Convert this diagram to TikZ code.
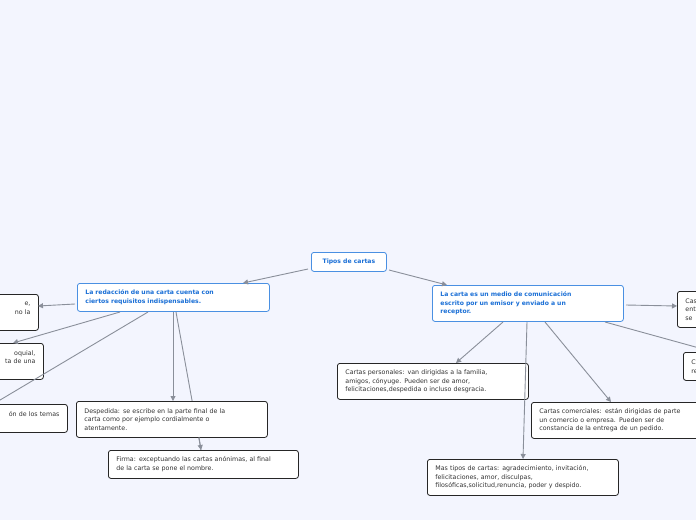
\documentclass[tikz,border=0pt]{standalone}
\usepackage{fontspec}
\setmainfont{DejaVu Sans}
\usetikzlibrary{arrows.meta}
\definecolor{bg}{HTML}{F3F5FE}
\definecolor{edge}{HTML}{8A8F9A}
\definecolor{bblue}{HTML}{4A90E2}
\definecolor{tblue}{HTML}{1A6FD6}
\tikzset{
  box/.style={draw=black!85,fill=white,rounded corners=2.5pt,line width=0.8pt,inner ysep=0pt,inner xsep=8pt,
    font=\fontsize{6.3}{8.6}\selectfont,text=black!80,anchor=north west,align=left},
  bluebox/.style={box,draw=bblue,text=tblue,font=\fontsize{6.1}{8.6}\selectfont\bfseries},
  conn/.style={draw=edge,line width=0.9pt,-{Triangle[length=5pt,width=5pt]}},
  plain/.style={draw=edge,line width=0.9pt},
}
\begin{document}
\begin{tikzpicture}[x=1pt,y=-1pt]
\fill[bg] (0,0) rectangle (696,520);
\clip (0,0) rectangle (696,520);
\useasboundingbox (0,0) rectangle (696,520);
% nodes
\node[bluebox,minimum width=75pt,minimum height=19pt,align=center] (root) at (311,252) {Tipos de cartas};
\node[bluebox,minimum width=192pt,minimum height=28pt,text width=176pt] (L) at (77,283) {La redacción de una carta cuenta con\\ciertos requisitos indispensables.};
\node[bluebox,minimum width=191pt,minimum height=36pt,text width=175pt] (R) at (432,285) {La carta es un medio de comunicación\\escrito por un emisor y enviado a un\\receptor.};
\node[box,minimum width=68pt,minimum height=36pt,text width=52pt,align=right] (A) at (-30,294) {e,\\no la\\\phantom{x}};
\node[box,minimum width=73pt,minimum height=36pt,text width=57pt,align=right] (B) at (-30,343) {oquial,\\ta de una\\\phantom{x}};
\node[box,minimum width=97pt,minimum height=28pt,text width=81pt,align=right] (C) at (-30,404) {ón de los temas\\\phantom{x}};
\node[box,minimum width=40pt,minimum height=36pt,text width=24pt] (RT) at (677,291) {Cas\\ent\\se};
\node[box,minimum width=40pt,minimum height=28pt,text width=24pt] (RM) at (683,352) {C\\re};
% edges behind
\draw[plain] (176,312) -- (201,450);
\draw[plain] (148,312) -- (-10,406);
\draw[plain] (605,322) -- (710,351);
\node[box,minimum width=191pt,minimum height=36pt,text width=175pt] (D) at (76,401) {Despedida: se escribe en la parte final de la\\carta como por ejemplo cordialmente o\\atentamente.};
\node[box,minimum width=190pt,minimum height=28pt,text width=174pt] (F) at (108,450) {Firma: exceptuando las cartas anónimas, al final\\de la carta se pone el nombre.};
\node[box,minimum width=191pt,minimum height=36pt,text width=175pt] (P) at (337,363) {Cartas personales: van dirigidas a la familia,\\amigos, cónyuge. Pueden ser de amor,\\felicitaciones,despedida o incluso desgracia.};
\node[box,minimum width=191pt,minimum height=36pt,text width=175pt] (M) at (427,459) {Mas tipos de cartas: agradecimiento, invitación,\\felicitaciones, amor, disculpas,\\filosóficas,solicitud,renuncia, poder y despido.};
\node[box,minimum width=190pt,minimum height=36pt,text width=174pt] (Co) at (531,402) {Cartas comerciales: están dirigidas de parte\\un comercio o empresa. Pueden ser de\\constancia de la entrega de un pedido.};
% connectors
\draw[conn] (308,269) -- (243,283);
\draw[conn] (389,270) -- (447,285);
\draw[conn] (75,304) -- (38,306);
\draw[conn] (120,312) -- (13,343);
\draw[conn] (173,312) -- (173,401);
\draw[conn] (199,437) -- (201,450);
\draw[conn] (503,322) -- (456,363);
\draw[conn] (527,322) -- (523,459);
\draw[conn] (545,322) -- (611,402);
\draw[conn] (626,305) -- (677,306);
\end{tikzpicture}
\end{document}
